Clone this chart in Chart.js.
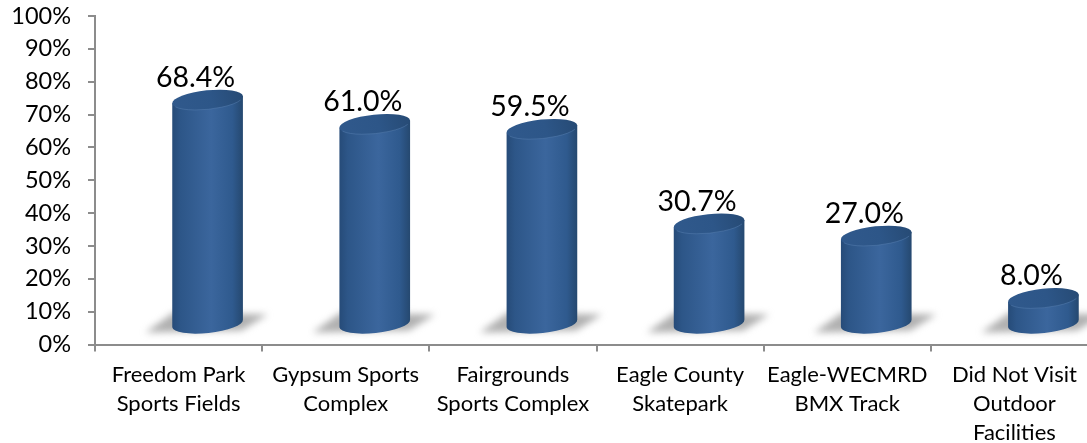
<!DOCTYPE html>
<html><head><meta charset="utf-8">
<style>html,body{margin:0;padding:0;background:#fff;overflow:hidden;width:1087px;height:443px}canvas{display:block}</style>
<script src="https://cdn.jsdelivr.net/npm/chart.js@4"></script>
</head><body><canvas id="c" width="1120" height="443" style="width:1120px;height:443px"></canvas>
<script>
const categories = [["Freedom Park","Sports Fields"],["Gypsum Sports","Complex"],["Fairgrounds","Sports Complex"],["Eagle County","Skatepark"],["Eagle-WECMRD","BMX Track"],["Did Not Visit","Outdoor","Facilities"]];
const percentVisited = [68.4, 61.0, 59.5, 30.7, 27.0, 8.0];
const FONT = 'Lato, Carlito, sans-serif';
const AXIS = '#8c8c8c';
const DEPTH_X = 29, DEPTH_Y = 20, ROT = -6*Math.PI/180, RY = 9.5;

const cylinders = {
  id:'cylinders',
  beforeDatasetDraw(chart, args){
    const ctx = chart.ctx, meta = args.meta;
    meta.data.forEach((el,i)=>{
      const rx = el.width/2, cx = el.x + DEPTH_X;
      const topY = el.y - DEPTH_Y, botY = el.base - DEPTH_Y;
      const ex = rx*Math.cos(ROT), ey = rx*Math.sin(ROT);
      // floor shadow
      ctx.save();
      ctx.filter = 'blur(3.5px)';
      ctx.fillStyle = 'rgba(150,150,150,0.75)';
      ctx.beginPath();
      ctx.moveTo(cx-62, botY+9);
      ctx.lineTo(cx-34, botY-11);
      ctx.lineTo(cx+60, botY-9);
      ctx.lineTo(cx+34, botY+7);
      ctx.closePath(); ctx.fill();
      ctx.restore();
      // body
      const g = ctx.createLinearGradient(cx-rx,0,cx+rx,0);
      g.addColorStop(0,'#264b78'); g.addColorStop(0.12,'#2d5688');
      g.addColorStop(0.55,'#3b669d'); g.addColorStop(0.85,'#2f5a8e'); g.addColorStop(1,'#25486f');
      ctx.save();
      ctx.fillStyle = g;
      ctx.beginPath();
      ctx.ellipse(cx,botY,rx,RY,ROT,0,Math.PI,false);
      ctx.lineTo(cx-ex, topY-ey);
      ctx.lineTo(cx+ex, topY+ey);
      ctx.closePath(); ctx.fill();
      // top cap
      const t = ctx.createLinearGradient(cx-rx,topY+RY,cx+rx,topY-RY);
      t.addColorStop(0,'#30598c'); t.addColorStop(0.55,'#2d5688'); t.addColorStop(1,'#264a74');
      ctx.fillStyle = t;
      ctx.beginPath(); ctx.ellipse(cx,topY,rx,RY,ROT,0,2*Math.PI); ctx.fill();
      ctx.strokeStyle='rgba(90,130,180,0.45)'; ctx.lineWidth=1;
      ctx.beginPath(); ctx.ellipse(cx,topY,rx,RY,ROT,0.4,Math.PI-0.4,false); ctx.stroke();
      ctx.restore();
      // value label
      ctx.save();
      ctx.fillStyle='#000'; ctx.font='28.5px '+FONT; ctx.textAlign='center'; ctx.textBaseline='middle';
      ctx.fillText(percentVisited[i].toFixed(1)+'%', el.x+17, topY-22);
      ctx.restore();
    });
    return false;
  }
};

new Chart(document.getElementById('c').getContext('2d'),{
  type:'bar',
  data:{labels:categories,datasets:[{data:percentVisited,backgroundColor:'#2f5a8e',categoryPercentage:1,barPercentage:0.425}]},
  options:{
    responsive:false,animation:false,
    layout:{padding:{top:16,right:22,bottom:0,left:0}},
    plugins:{legend:{display:false},tooltip:{enabled:false}},
    scales:{
      x:{
        grid:{drawOnChartArea:false,drawTicks:true,tickLength:7,color:AXIS,lineWidth:2,offset:true},
        border:{color:AXIS,width:2},
        ticks:{color:'#000',font:{family:FONT,size:22,lineHeight:1.32},maxRotation:0,autoSkip:false,padding:9},
        afterFit(s){s.height=98.5;s.paddingLeft=0;s.paddingRight=0;}
      },
      y:{
        min:0,max:100,
        grid:{drawOnChartArea:false,drawTicks:true,tickLength:7,color:AXIS,lineWidth:2},
        border:{color:AXIS,width:2},
        ticks:{stepSize:10,autoSkip:false,color:'#000',font:{family:FONT,size:23.5},padding:17,callback:v=>v+'%'},
        afterFit(s){s.width=95;s.paddingTop=0;s.paddingBottom=0;}
      }
    }
  },
  plugins:[cylinders]
});
</script></body></html>
